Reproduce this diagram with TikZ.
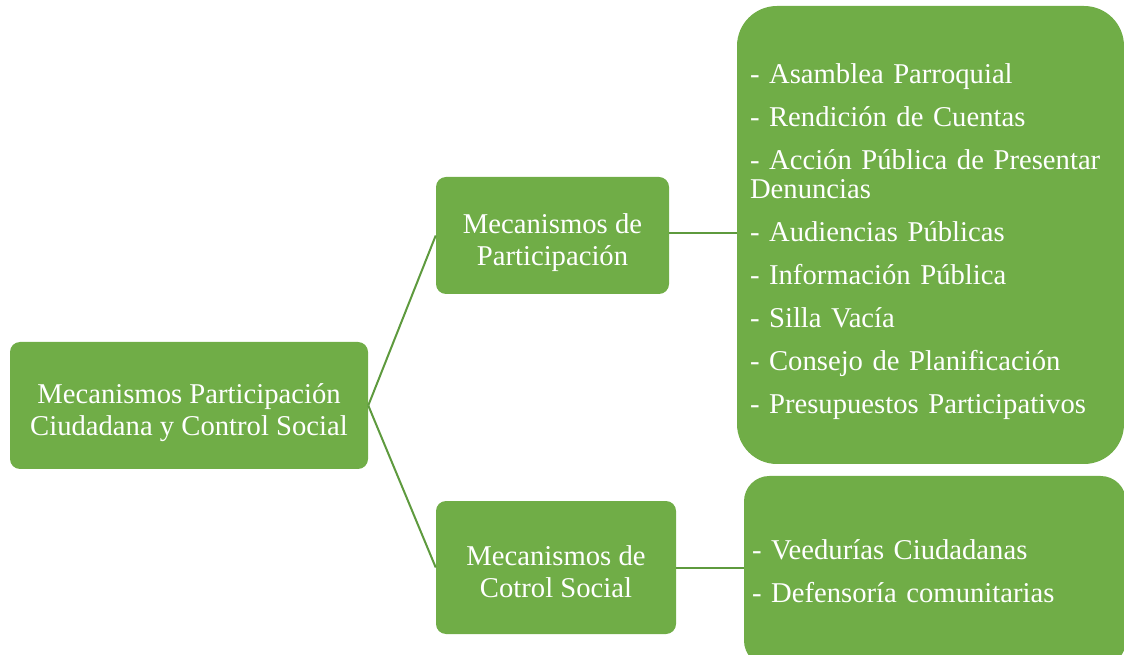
\documentclass[tikz,border=0pt]{standalone}
\usepackage{fontspec}
\setmainfont{Liberation Serif}
\usepackage{tikz}
\usepackage{xcolor}
\definecolor{leafgreen}{HTML}{70AD47}
\definecolor{linegreen}{HTML}{5E9A3E}

\begin{document}
\begin{tikzpicture}[x=0.75pt,y=-0.75pt]
		\tikzstyle{box}=[fill=leafgreen, text=white, rounded corners=7.5pt, inner sep=0pt, text height=45pt, text depth=0pt, align=center, font=\fontsize{21.5}{24}\selectfont]
		\tikzstyle{listbox}=[fill=leafgreen, text=white, inner ysep=0pt, align=left, font=\fontsize{21.5}{21.75}\selectfont]
		\tikzstyle{link}=[linegreen, line width=1.5pt]
		\useasboundingbox (0,0) rectangle (1124,655);
		\clip (0,0) rectangle (1124,655);
		\node [box, minimum width=268.5pt, minimum height=95.25pt] (root) at (189,405.5) {Mecanismos Participación\\Ciudadana y Control Social};
		\node [box, minimum width=174.75pt, minimum height=87.75pt] (partic) at (552.5,235.5) {Mecanismos de\\Participación};
		\node [box, minimum width=180pt, minimum height=99.75pt] (control) at (556,567.5) {Mecanismos de\\Cotrol Social};
		\node [listbox, rounded corners=30pt, inner xsep=9.75pt, text width=270.75pt, minimum height=343.5pt] (particlist) at (930.5,235) {\rule{0pt}{25pt}- Asamblea Parroquial\\[10.5pt]
			- Rendición de Cuentas\\[10.5pt]
			- Acción Pública de Presentar\\Denuncias\\[10.5pt]
			- Audiencias Públicas\\[10.5pt]
			- Información Pública\\[10.5pt]
			- Silla Vacía\\[10.5pt]
			- Consejo de Planificación\\[10.5pt]
			- Presupuestos Participativos};
		\node [listbox, rounded corners=19pt, inner xsep=6pt, text width=274.5pt, minimum height=142.5pt] (controllist) at (935,571) {- Veedurías Ciudadanas\\[10.5pt]
			- Defensoría comunitarias};
		\draw [link] (root.east) -- (partic.west);
		\draw [link] (root.east) -- (control.west);
		\draw [link] ([yshift=1.5pt]partic.east) -- ([yshift=1.5pt]partic.east -| particlist.west);
		\draw [link] (control.east) -- (control.east -| controllist.west);
\end{tikzpicture}
\end{document}
